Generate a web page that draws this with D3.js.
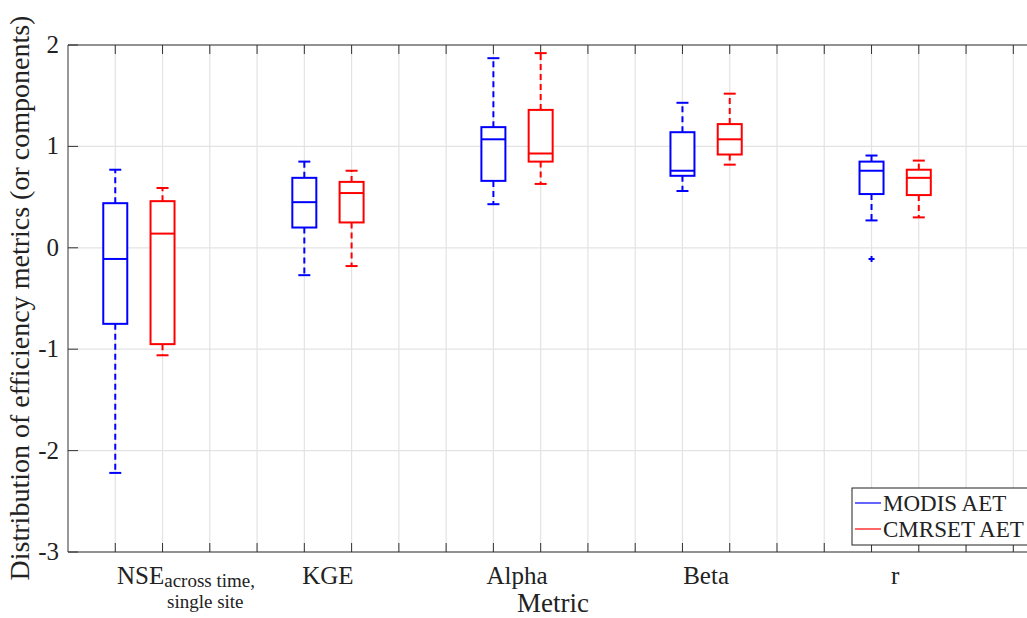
<!DOCTYPE html>
<html><head><meta charset="utf-8">
<script src="https://cdn.jsdelivr.net/npm/d3@7"></script>
<style>body{margin:0;background:#fff}svg{font-family:"Liberation Serif","Times New Roman",serif}</style>
</head><body><svg id="c" width="1027" height="618"></svg>
<script>
const categories=["NSE","KGE","Alpha","Beta","r"];
const series=["MODIS AET","CMRSET AET"];
const colors=["#0000ff","#ff0000"];
// [lowWhisker, Q1, median, Q3, highWhisker]
const modis=[[-2.22,-0.75,-0.11,0.44,0.77],[-0.27,0.20,0.45,0.69,0.85],[0.43,0.66,1.07,1.19,1.87],[0.56,0.71,0.76,1.14,1.43],[0.27,0.53,0.76,0.85,0.91]];
const cmrset=[[-1.06,-0.95,0.14,0.46,0.59],[-0.18,0.25,0.54,0.65,0.76],[0.63,0.85,0.93,1.36,1.92],[0.82,0.92,1.07,1.22,1.52],[0.30,0.52,0.69,0.77,0.86]];
const outliers=[[],[],[],[],[-0.11]]; // MODIS only
const yTicks=[-3,-2,-1,0,1,2];
const svg=d3.select("#c");
const L=68,T=45,B=552,R=1027+20;
const x=d3.scaleLinear().domain([-1,19+(R-1013.3)/47.3]).range([L,R]);
const y=d3.scaleLinear().domain([-3,2]).range([B,T]);
const g=svg.append("g");
const xt=d3.range(0,20);
g.selectAll(".gx").data(xt).join("line").attr("x1",d=>x(d)).attr("x2",d=>x(d)).attr("y1",T).attr("y2",B).attr("stroke","#e3e3e3").attr("stroke-width",1.2);
g.selectAll(".gy").data(yTicks).join("line").attr("x1",L).attr("x2",R).attr("y1",d=>y(d)).attr("y2",d=>y(d)).attr("stroke","#e3e3e3").attr("stroke-width",1.2);
g.append("line").attr("x1",L).attr("x2",R).attr("y1",T).attr("y2",T).attr("stroke","#333");
g.append("line").attr("x1",L).attr("x2",R).attr("y1",B).attr("y2",B).attr("stroke","#333");
g.append("line").attr("x1",L).attr("x2",L).attr("y1",T).attr("y2",B).attr("stroke","#333");
xt.forEach(d=>{g.append("line").attr("x1",x(d)).attr("x2",x(d)).attr("y1",T).attr("y2",T+9).attr("stroke","#333");
 g.append("line").attr("x1",x(d)).attr("x2",x(d)).attr("y1",B).attr("y2",B-9).attr("stroke","#333");});
yTicks.forEach(d=>{g.append("line").attr("x1",L).attr("x2",L+10).attr("y1",y(d)).attr("y2",y(d)).attr("stroke","#333");
 g.append("text").attr("x",L-9).attr("y",y(d)+8).attr("text-anchor","end").attr("font-size",25).attr("fill","#222").text(d<0?"-"+Math.abs(d):d);});
const bw=24,cw=12;
[modis,cmrset].forEach((data,s)=>{
 data.forEach((v,i)=>{
  const cx=x(i*4+s), c=colors[s];
  const bg=g.append("g").attr("stroke",c).attr("fill","none").attr("stroke-width",2);
  bg.append("line").attr("x1",cx).attr("x2",cx).attr("y1",y(v[3])).attr("y2",y(v[4])).attr("stroke-dasharray","6,4");
  bg.append("line").attr("x1",cx).attr("x2",cx).attr("y1",y(v[1])).attr("y2",y(v[0])).attr("stroke-dasharray","6,4");
  bg.append("line").attr("x1",cx-cw/2).attr("x2",cx+cw/2).attr("y1",y(v[4])).attr("y2",y(v[4]));
  bg.append("line").attr("x1",cx-cw/2).attr("x2",cx+cw/2).attr("y1",y(v[0])).attr("y2",y(v[0]));
  bg.append("rect").attr("x",cx-bw/2).attr("width",bw).attr("y",y(v[3])).attr("height",y(v[1])-y(v[3])).attr("fill","#fff");
  bg.append("line").attr("x1",cx-bw/2).attr("x2",cx+bw/2).attr("y1",y(v[2])).attr("y2",y(v[2]));
  if(s===0) outliers[i].forEach(o=>{bg.append("path").attr("d",`M${cx-3},${y(o)}h6M${cx},${y(o)-3}v6`);});
 });
});
const lx=i=>x(i*4+0.5);
const nse=g.append("text").attr("x",117).attr("y",584).attr("font-size",25).attr("fill","#222");
nse.append("tspan").text("NSE");
nse.append("tspan").attr("font-size",19).attr("dy",3).text("across time,");
g.append("text").attr("x",167).attr("y",608).attr("font-size",19).attr("fill","#222").text("single site");
categories.slice(1).forEach((c,j)=>g.append("text").attr("x",lx(j+1)).attr("y",584).attr("text-anchor","middle").attr("font-size",25).attr("fill","#222").text(c));
g.append("text").attr("x",553).attr("y",612).attr("text-anchor","middle").attr("font-size",27).attr("fill","#222").text("Metric");
g.append("text").attr("transform","translate(29,298) rotate(-90)").attr("text-anchor","middle").attr("font-size",28).attr("fill","#222").text("Distribution of efficiency metrics (or components)");
const lg=g.append("g");
lg.append("rect").attr("x",852).attr("y",488).attr("width",200).attr("height",57).attr("fill","#fff").attr("stroke","#222");
series.forEach((s,i)=>{const yy=503+i*26;
 lg.append("line").attr("x1",855).attr("x2",881).attr("y1",yy).attr("y2",yy).attr("stroke",colors[i]).attr("stroke-width",1.2);
 lg.append("text").attr("x",883).attr("y",yy+8).attr("font-size",23).attr("fill","#222").text(s);});
</script></body></html>
